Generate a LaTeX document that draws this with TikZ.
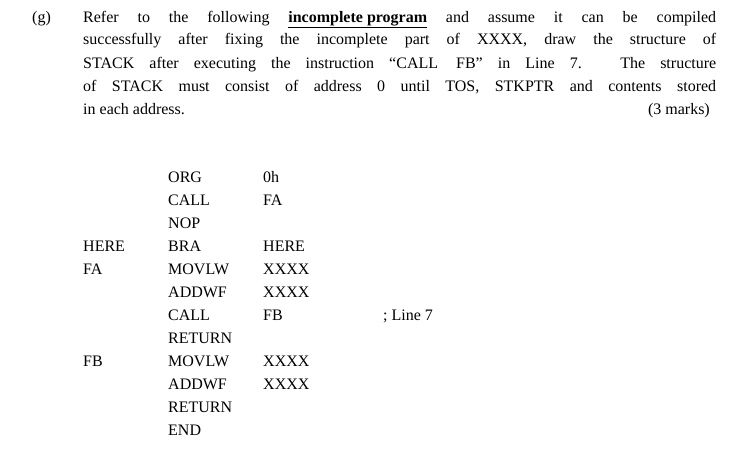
\documentclass[tikz,border=0pt]{standalone}
\usepackage{fontspec}
\setmainfont{Liberation Serif}
\begin{document}
\begin{tikzpicture}[x=1pt,y=-1pt,
  txt/.style={anchor=base west,inner sep=0pt,font=\fontsize{16}{23}\selectfont}]
\useasboundingbox (0,0) rectangle (740,463);
\node[txt] (g) at (32,22) {(g)};
\node[txt] (l1) at (83,22) {\makebox[633pt][s]{Refer to the following \textbf{\underline{incomplete program}} and assume it can be compiled}};
\node[txt] (l2) at (83,45) {\makebox[633pt][s]{successfully after fixing the incomplete part of XXXX, draw the structure of}};
\node[txt] (l3) at (83,68) {\makebox[633pt][s]{STACK after executing the instruction “CALL\hspace{18pt}FB” in Line 7. The structure}};
\node[txt] (l4) at (83,91) {\makebox[633pt][s]{of STACK must consist of address 0 until TOS, STKPTR and contents stored}};
\node[txt] (l5) at (83,114) {in each address.};
\node[txt,anchor=base east] (mk) at (710,114) {(3 marks)};
\foreach \i/\a/\b/\c/\d in {0//ORG/0h/, 1//CALL/FA/, 2//NOP//, 3/HERE/BRA/HERE/, 4/FA/MOVLW/XXXX/, 5//ADDWF/XXXX/, 6//CALL/FB/; Line 7, 7//RETURN//, 8/FB/MOVLW/XXXX/, 9//ADDWF/XXXX/, 10//RETURN//, 11//END//}{
  \node[txt] (a\i) at (83,182+23*\i) {\a};
  \node[txt] (b\i) at (168,182+23*\i) {\b};
  \node[txt] (c\i) at (263,182+23*\i) {\c};
  \node[txt] (d\i) at (383,182+23*\i) {\d};
}
\end{tikzpicture}
\end{document}
